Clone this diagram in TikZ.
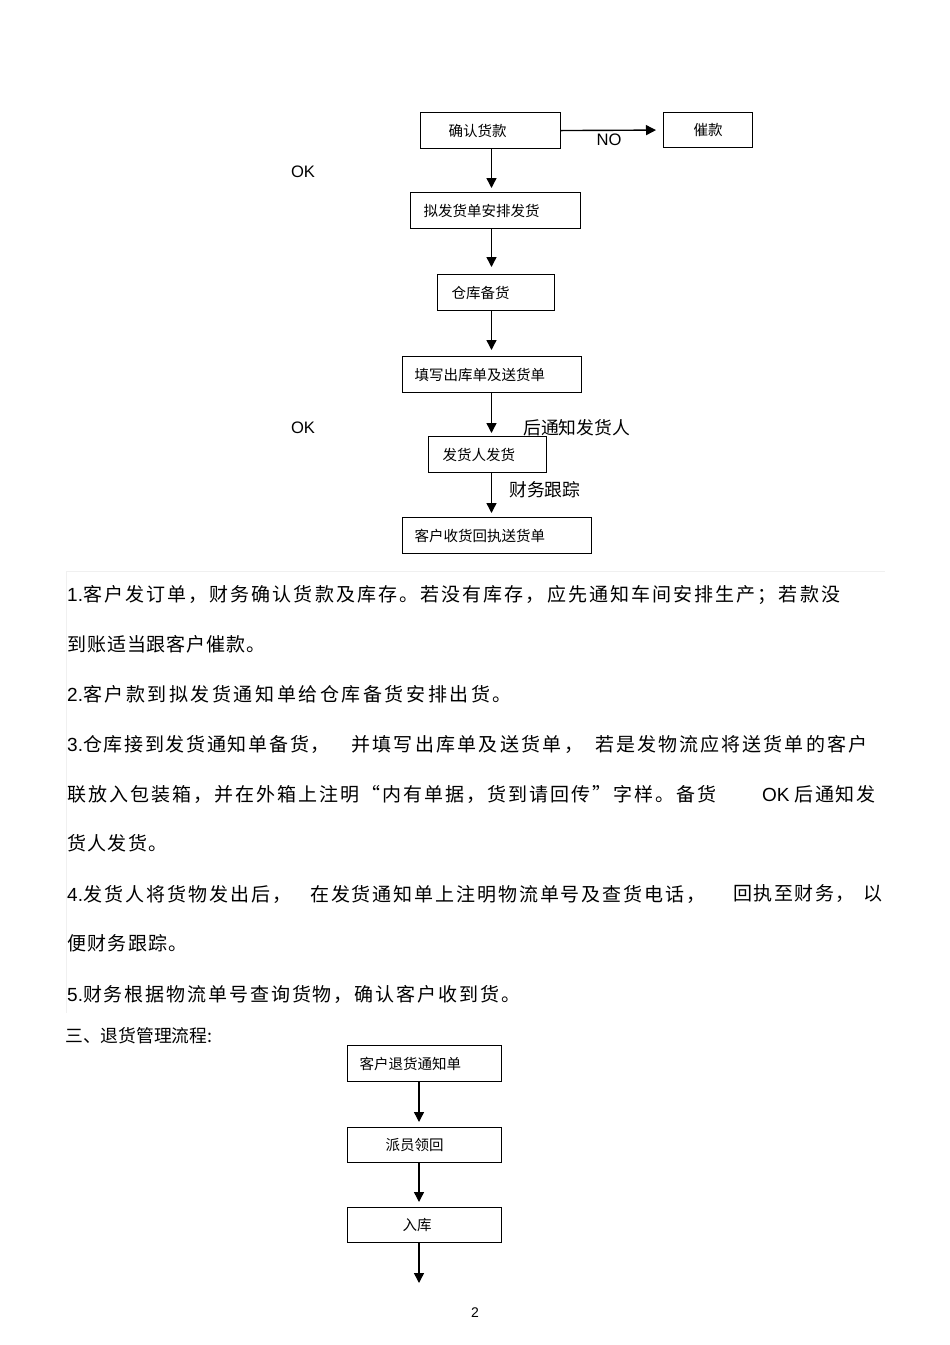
\documentclass[tikz,border=0pt]{standalone}
\usepackage{fontspec}
\setmainfont{Liberation Sans}
\newfontfamily\cjk{Noto Sans CJK SC}
\usetikzlibrary{arrows.meta}
\pgfdeclarelayer{bg}
\pgfsetlayers{bg,main}
\newcommand\zh[2]{{\cjk\addfontfeature{LetterSpace=#1}#2}}
\newcommand\boxfont{\cjk\fontsize{14.5}{16}\selectfont}

\begin{document}
\begin{tikzpicture}[
        box/.style={draw, line width=1.1pt, anchor=north west, minimum height=36pt, inner ysep=0pt, align=left, font=\boxfont},
        lbl/.style={inner sep=0pt, font=\fontsize{16.6}{18}\selectfont},
        note/.style={anchor=west, inner sep=0pt, font=\cjk\fontsize{17.8}{20}\selectfont},
        para/.style={anchor=west, inner sep=0pt, font=\fontsize{19}{22}\selectfont},
        arr/.style={line width=1.4pt, -{Triangle[width=10pt,length=10pt]}, shorten >=4pt},
        faint/.style={draw=gray!12, line width=1pt}]
        \useasboundingbox (0pt,0pt) rectangle (950pt,-1345pt);
        \coordinate (ax) at (491.5pt, 0pt);
        \coordinate (rx) at (419pt, 0pt);
        % shipping flow
        \node (b0) [box, text width=84pt, inner xsep=28pt] at (420pt, -112pt) {确认货款};
        \node (b1) [box, text width=69pt, inner xsep=10pt, align=center, minimum height=35pt] at (663pt, -112pt) {催款};
        \node (b2) [box, text width=144pt, inner xsep=13pt] at (410pt, -192pt) {拟发货单安排发货};
        \node (b3) [box, text width=89pt, inner xsep=14pt] at (437pt, -274pt) {仓库备货};
        \node (b4) [box, text width=155pt, inner xsep=12pt] at (402pt, -356pt) {填写出库单及送货单};
        \node (b5) [box, text width=90pt, inner xsep=14pt] at (428pt, -436pt) {发货人发货};
        \node (b6) [box, text width=165pt, inner xsep=12pt] at (402pt, -517pt) {客户收货回执送货单};
        \node (l0) [lbl] at (303pt, -172pt) {OK};
        \node (l1) [lbl] at (609pt, -140pt) {NO};
        \node (l2) [lbl] at (303pt, -428pt) {OK};
        \node (l3) [note] at (523pt, -428pt) {后通知发货人};
        \node (l4) [note] at (509pt, -490pt) {财务跟踪};
        % text
        \node (p0) [para] at (67pt, -595pt) {1.\zh{11}{客户发订单，财务确认货款及库存。若没有库存，应先通知车间安排生产；若款没}};
        \node (p1) [para] at (67pt, -644pt) {\zh{5}{到账适当跟客户催款。}};
        \node (p2) [para] at (67pt, -694pt) {2.\zh{13.5}{客户款到拟发货通知单给仓库备货安排出货。}};
        \node (p3) [para] at (67pt, -744pt) {3.\zh{9}{仓库接到发货通知单备货，}};
        \node (p3b) [para] at (351pt, -744pt) {\zh{12}{并填写出库单及送货单，}};
        \node (p3c) [para] at (595pt, -744pt) {\zh{11}{若是发物流应将送货单的客户}};
        \node (p4) [para] at (67pt, -794pt) {\zh{10.5}{联放入包装箱，并在外箱上注明“内有单据，货到请回传”字样。备货}};
        \node (p4b) [para] at (762pt, -794pt) {OK \zh{8}{后通知发}};
        \node (p5) [para] at (67pt, -843pt) {\zh{7}{货人发货。}};
        \node (p6) [para] at (67pt, -894pt) {4.\zh{11}{发货人将货物发出后，}};
        \node (p6b) [para] at (310pt, -894pt) {\zh{10}{在发货通知单上注明物流单号及查货电话，}};
        \node (p6c) [para] at (733pt, -894pt) {\zh{8}{回执至财务，}};
        \node (p6d) [para] at (863pt, -894pt) {\zh{8}{以}};
        \node (p7) [para] at (67pt, -943pt) {\zh{7}{便财务跟踪。}};
        \node (p8) [para] at (67pt, -994pt) {5.\zh{10}{财务根据物流单号查询货物，确认客户收到货。}};
        \node (p9) [anchor=west, inner sep=0pt, font=\cjk\fontsize{17.8}{20}\selectfont] at (65pt, -1036pt) {三、退货管理流程:};
        % return flow
        \node (r0) [box, text width=130pt, inner xsep=12pt] at (347pt, -1045pt) {客户退货通知单};
        \node (r1) [box, text width=78pt, inner xsep=38pt, minimum height=35pt] at (347pt, -1127pt) {派员领回};
        \node (r2) [box, text width=44pt, inner xsep=55pt, minimum height=35pt] at (347pt, -1207pt) {入库};
        \coordinate (r3) at (419pt, -1287pt);
        \node (pg) [inner sep=0pt, font=\fontsize{14}{16}\selectfont] at (475pt, -1313pt) {2};
        \begin{pgfonlayer}{bg}
                \fill[white] (0pt,0pt) rectangle (950pt,-1345pt);
                \draw[faint] (67pt, -571pt) -- (885pt, -571pt);
                \draw[faint] (66pt, -571pt) -- (66pt, -1013pt);
                \draw (b0.east) edge [arr, shorten >=7pt] (b1.west);
                \draw (b0.south -| ax) edge [arr] (b2.north -| ax);
                \draw (b2.south -| ax) edge [arr, shorten >=7pt] (b3.north -| ax);
                \draw (b3.south -| ax) edge [arr, shorten >=6pt] (b4.north -| ax);
                \draw (b4.south -| ax) edge [arr, shorten >=3pt] (b5.north -| ax);
                \draw (b5.south -| ax) edge [arr] (b6.north -| ax);
                \draw (r0.south -| rx) edge [arr, shorten >=5pt] (r1.north -| rx);
                \draw (r1.south -| rx) edge [arr, shorten >=5pt] (r2.north -| rx);
                \draw (r2.south -| rx) edge [arr] (r3);
        \end{pgfonlayer}
\end{tikzpicture}
\end{document}
